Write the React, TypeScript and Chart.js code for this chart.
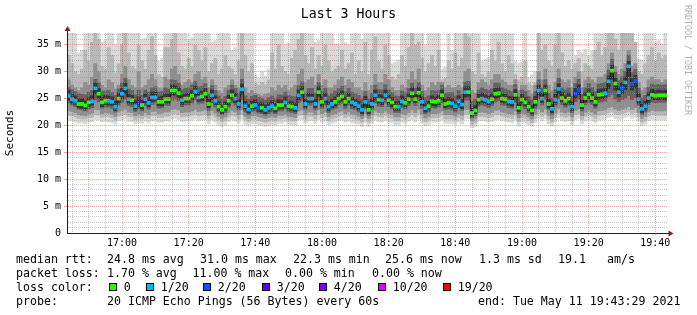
import React, { useEffect, useRef } from 'react';
import { Chart, registerables } from 'chart.js';

Chart.register(...registerables);

const MONO = "'DejaVu Sans Mono', monospace";

// time axis: minutes after 16:00 (16:43:30 .. 19:43:30), one sample per minute
const X_MIN = 43.5;
const X_MAX = 223.5;
const FIRST_SAMPLE = 44;
const Y_MIN = 0;
const Y_MAX = 37.2;

const xMinorTicks = [45, 50, 55, 60, 65, 70, 75, 80, 85, 90, 95, 100, 105, 110, 115, 120, 125, 130, 135, 140, 145, 150, 155, 160, 165, 170, 175, 180, 185, 190, 195, 200, 205, 210, 215, 220];
const xMajorTicks = [60, 80, 100, 120, 140, 160, 180, 200, 220];
const xMajorLabels = ['17:00', '17:20', '17:40', '18:00', '18:20', '18:40', '19:00', '19:20', '19:40'];

const yTicks = [0, 1, 2, 3, 4, 5, 6, 7, 8, 9, 10, 11, 12, 13, 14, 15, 16, 17, 18, 19, 20, 21, 22, 23, 24, 25, 26, 27, 28, 29, 30, 31, 32, 33, 34, 35, 36, 37];
const yMajorTicks = [0, 5, 10, 15, 20, 25, 30, 35];
const yMajorLabels = ['0', '5 m', '10 m', '15 m', '20 m', '25 m', '30 m', '35 m'];

// median rtt (ms) per minute
const medianMs = [
  25.5, 24.9, 24.6, 24.0, 24.0, 23.7, 24.3, 24.5, 26.9, 25.9,
  24.3, 24.6, 24.6, 24.4, 23.5, 25.0, 25.9, 26.9, 24.9, 24.7,
  23.6, 24.3, 23.8, 24.9, 24.2, 25.2, 25.2, 24.4, 24.4, 24.9,
  24.9, 26.5, 26.5, 26.0, 24.7, 25.0, 25.0, 25.5, 26.3, 25.2,
  25.4, 25.9, 24.0, 25.6, 24.6, 23.5, 22.9, 23.5, 24.6, 25.6,
  25.0, 24.0, 26.7, 23.6, 23.0, 23.6, 23.8, 23.3, 23.3, 22.9,
  23.3, 23.6, 23.2, 23.8, 23.8, 24.3, 23.6, 23.5, 23.3, 25.6,
  26.2, 24.0, 25.0, 25.0, 24.0, 26.2, 24.4, 25.0, 23.5, 24.0,
  24.4, 25.0, 25.4, 24.4, 25.0, 24.3, 24.0, 23.6, 22.9, 24.4,
  22.9, 24.0, 25.6, 24.8, 24.7, 25.6, 24.7, 24.3, 23.5, 23.5,
  24.5, 24.2, 24.9, 26.0, 24.9, 26.1, 24.4, 23.2, 23.6, 24.5,
  24.4, 24.6, 25.6, 24.0, 24.2, 24.1, 23.6, 24.5, 23.9, 26.2,
  26.2, 22.3, 22.8, 24.8, 25.0, 24.8, 24.5, 24.9, 25.9, 26.0,
  25.0, 24.9, 24.5, 24.4, 25.7, 23.3, 24.8, 24.3, 23.5, 22.8,
  24.4, 26.5, 25.0, 26.5, 24.0, 23.1, 24.8, 26.8, 25.1, 24.6,
  25.0, 23.5, 25.9, 26.6, 23.8, 25.1, 25.8, 25.1, 24.4, 25.7,
  25.8, 26.0, 28.2, 30.2, 27.8, 26.2, 27.0, 28.0, 31.0, 27.7,
  28.3, 24.9, 23.1, 23.6, 25.1, 25.7, 25.5, 25.6, 25.6, 25.6,
];

// lost pings (of 20) per minute
const lossCount = [
  1, 1, 1, 0, 0, 0, 0, 1, 1, 0,
  0, 0, 1, 1, 1, 0, 1, 1, 1, 0,
  1, 3, 0, 1, 1, 1, 1, 0, 0, 0,
  0, 0, 0, 0, 1, 0, 0, 0, 1, 1,
  0, 0, 0, 1, 1, 0, 0, 0, 0, 0,
  1, 1, 1, 1, 1, 0, 1, 2, 0, 1,
  1, 1, 0, 0, 0, 1, 0, 0, 1, 1,
  0, 1, 1, 1, 1, 0, 0, 1, 1, 1,
  0, 0, 0, 0, 0, 1, 1, 1, 1, 1,
  0, 1, 1, 0, 1, 1, 0, 0, 0, 1,
  1, 0, 0, 0, 0, 0, 1, 1, 0, 0,
  0, 0, 0, 0, 0, 1, 1, 1, 1, 1,
  0, 0, 0, 0, 1, 1, 1, 0, 0, 0,
  0, 0, 1, 1, 0, 0, 0, 0, 0, 0,
  0, 1, 1, 0, 0, 1, 1, 1, 0, 0,
  0, 1, 2, 2, 0, 0, 0, 0, 0, 0,
  0, 1, 1, 0, 0, 1, 2, 1, 1, 2,
  2, 1, 1, 1, 1, 0, 0, 0, 0, 0,
];

// smoke: highest ping (clipped at graph top)
const smokeMax = [
  37.2, 37.2, 37.2, 33.5, 34.0, 37.2, 37.2, 37.2, 37.2, 37.2,
  35.5, 35.8, 37.2, 37.2, 35.0, 37.2, 37.2, 37.2, 37.2, 37.2,
  37.2, 37.2, 36.0, 36.2, 37.2, 37.2, 37.2, 32.0, 32.5, 37.2,
  37.2, 37.2, 37.2, 37.2, 37.2, 37.2, 36.0, 36.3, 37.2, 37.2,
  37.2, 37.2, 37.2, 35.5, 35.8, 37.2, 37.2, 37.2, 37.2, 34.0,
  34.5, 37.2, 37.2, 37.2, 37.2, 37.2, 29.5, 28.8, 30.0, 29.2,
  30.5, 37.2, 37.2, 37.2, 37.2, 35.0, 35.3, 37.2, 37.2, 37.2,
  37.2, 37.2, 37.2, 37.2, 35.5, 35.8, 37.2, 37.2, 37.2, 37.2,
  35.2, 35.0, 37.2, 35.4, 35.0, 37.2, 37.2, 37.2, 36.0, 37.2,
  37.2, 37.2, 37.2, 37.2, 37.2, 37.2, 37.2, 31.5, 31.8, 32.2,
  37.2, 37.2, 37.2, 37.2, 37.2, 37.2, 37.2, 35.0, 37.2, 37.2,
  37.2, 37.2, 30.5, 30.8, 37.2, 34.0, 37.2, 37.2, 37.2, 37.2,
  37.2, 37.2, 37.2, 37.2, 32.0, 32.3, 32.6, 37.2, 37.2, 37.2,
  37.2, 37.2, 37.2, 37.2, 32.0, 31.6, 31.8, 37.2, 29.0, 29.5,
  30.0, 37.2, 37.2, 37.2, 37.2, 37.2, 37.2, 37.2, 37.2, 37.2,
  37.2, 37.2, 33.0, 34.0, 33.5, 34.2, 33.0, 33.8, 37.2, 37.2,
  37.2, 37.2, 37.2, 37.2, 37.2, 37.2, 37.2, 37.2, 37.2, 37.2,
  32.0, 32.4, 32.2, 37.2, 37.2, 37.2, 35.5, 35.8, 35.2, 37.2,
];

const smokeHi2 = [
  33.0, 31.5, 30.0, 29.5, 30.5, 34.0, 32.0, 35.5, 37.2, 36.0,
  31.0, 30.5, 34.5, 33.0, 29.8, 31.5, 35.0, 37.2, 33.5, 31.0,
  30.5, 35.0, 32.0, 30.5, 34.0, 36.5, 33.0, 29.5, 29.0, 34.5,
  34.5, 36.0, 37.2, 33.5, 31.0, 30.5, 32.5, 31.0, 35.0, 34.0,
  32.0, 34.5, 30.0, 31.5, 32.5, 29.5, 30.5, 33.0, 31.0, 30.5,
  29.5, 32.0, 37.2, 33.0, 30.0, 31.5, 27.8, 27.5, 28.0, 27.6,
  28.5, 33.5, 30.5, 35.0, 31.0, 30.0, 29.5, 32.5, 34.0, 36.0,
  37.2, 33.0, 31.5, 34.5, 30.5, 33.0, 31.0, 35.0, 32.0, 30.0,
  30.5, 31.0, 34.0, 30.5, 31.5, 33.5, 29.5, 32.0, 30.0, 35.5,
  29.5, 34.0, 36.5, 32.0, 30.5, 35.0, 33.0, 29.0, 28.5, 29.5,
  33.0, 31.0, 34.5, 37.2, 35.0, 35.5, 32.5, 30.0, 31.5, 33.0,
  31.0, 34.0, 28.5, 28.8, 32.0, 30.5, 33.5, 31.0, 32.5, 37.2,
  36.5, 30.0, 29.5, 33.5, 29.5, 29.0, 30.0, 34.0, 32.0, 35.5,
  31.5, 30.0, 33.0, 31.5, 29.5, 28.5, 29.0, 32.0, 27.8, 27.5,
  28.0, 37.2, 34.0, 35.0, 32.0, 31.0, 35.0, 37.2, 33.5, 31.0,
  32.0, 30.5, 31.5, 32.5, 30.0, 31.5, 31.0, 30.5, 34.0, 35.5,
  33.0, 34.5, 37.2, 37.2, 36.0, 34.0, 37.2, 37.2, 37.2, 37.2,
  35.5, 30.0, 29.5, 31.5, 33.0, 34.5, 32.0, 33.5, 32.5, 33.0,
];

const smokeHi3 = [
  28.5, 27.5, 27.0, 26.5, 27.0, 28.0, 27.5, 29.0, 31.5, 30.0,
  27.5, 27.0, 28.5, 28.0, 26.8, 27.5, 29.5, 31.0, 28.5, 27.5,
  27.0, 30.0, 27.0, 27.5, 28.5, 29.5, 28.5, 27.0, 26.8, 29.0,
  28.5, 30.5, 31.0, 29.5, 27.5, 28.0, 28.5, 28.0, 29.5, 30.0,
  28.5, 29.0, 27.0, 28.5, 27.5, 26.5, 26.0, 27.0, 27.5, 28.5,
  27.5, 27.0, 30.5, 27.0, 26.0, 26.5, 26.0, 25.8, 25.5, 25.8,
  26.0, 27.0, 26.5, 27.5, 27.0, 27.5, 26.5, 27.0, 27.5, 29.5,
  30.5, 28.0, 28.5, 29.0, 27.5, 29.5, 27.5, 28.5, 27.0, 27.0,
  27.5, 28.5, 29.0, 27.5, 28.5, 28.0, 27.0, 27.0, 26.5, 28.0,
  26.5, 27.5, 29.5, 28.0, 28.0, 29.5, 28.5, 27.0, 26.5, 26.5,
  27.5, 27.0, 28.5, 30.0, 28.5, 30.5, 27.5, 26.5, 27.0, 28.0,
  27.5, 28.0, 28.0, 27.0, 27.5, 27.0, 27.0, 27.5, 27.0, 30.0,
  30.5, 26.5, 26.0, 28.0, 28.5, 28.0, 27.5, 28.5, 29.5, 29.5,
  28.5, 28.0, 27.5, 27.5, 28.5, 26.5, 27.5, 27.5, 26.5, 25.8,
  27.5, 30.0, 28.5, 30.5, 27.5, 26.5, 28.0, 30.5, 28.5, 28.0,
  28.5, 27.0, 29.0, 30.0, 27.0, 28.5, 29.0, 28.5, 28.0, 29.0,
  29.0, 29.5, 31.5, 33.5, 31.0, 29.5, 30.5, 31.5, 34.0, 31.0,
  31.5, 28.0, 26.5, 27.0, 28.5, 29.0, 28.5, 28.5, 28.0, 28.5,
];

const smokeHi4 = [
  27.1, 26.7, 26.3, 25.9, 25.8, 25.7, 26.2, 26.5, 28.6, 27.9,
  26.3, 26.4, 26.5, 26.1, 25.6, 26.8, 27.9, 28.8, 26.8, 26.5,
  25.7, 26.6, 25.6, 26.6, 26.2, 27.0, 27.2, 26.2, 26.3, 27.0,
  26.8, 28.5, 28.4, 27.9, 26.6, 26.9, 27.0, 27.5, 28.2, 27.2,
  27.3, 27.8, 25.9, 27.4, 26.5, 25.5, 24.9, 25.4, 26.6, 27.5,
  26.9, 26.0, 28.6, 25.5, 24.9, 25.4, 25.6, 25.2, 25.0, 24.7,
  25.2, 25.5, 25.0, 25.7, 25.6, 26.2, 25.6, 25.4, 25.3, 27.4,
  28.1, 26.0, 26.9, 26.9, 26.0, 28.0, 26.4, 26.9, 25.5, 26.0,
  26.4, 26.9, 27.3, 26.3, 26.9, 26.2, 26.0, 25.6, 24.9, 26.3,
  24.9, 26.0, 27.5, 26.7, 26.6, 27.6, 26.6, 26.1, 25.5, 25.4,
  26.4, 26.1, 26.9, 27.9, 26.9, 28.0, 26.3, 25.2, 25.5, 26.5,
  26.4, 26.5, 27.5, 26.0, 26.1, 26.1, 25.5, 26.5, 25.8, 28.1,
  28.2, 24.5, 24.9, 26.6, 27.0, 26.7, 26.5, 26.8, 27.9, 27.9,
  27.0, 26.8, 26.5, 26.3, 27.6, 25.3, 26.6, 26.3, 25.4, 24.8,
  26.3, 28.5, 26.9, 28.5, 26.0, 25.1, 26.7, 28.8, 27.0, 26.6,
  27.0, 25.5, 27.8, 28.6, 25.8, 27.0, 27.8, 27.1, 26.3, 27.7,
  27.8, 28.0, 30.3, 32.3, 29.9, 28.3, 29.1, 30.1, 33.1, 29.8,
  30.4, 26.9, 25.1, 25.6, 27.1, 27.7, 27.5, 27.6, 27.5, 27.6,
];

// dark core right around the median
const smokeHi5 = [
  26.5, 25.9, 25.5, 24.9, 25.0, 24.6, 25.2, 25.5, 27.9, 26.9,
  25.2, 25.6, 25.5, 25.3, 24.5, 26.0, 26.9, 27.9, 25.9, 25.6,
  24.6, 25.3, 24.7, 25.9, 25.2, 26.2, 26.2, 25.3, 25.4, 25.9,
  25.9, 27.5, 27.4, 27.0, 25.6, 25.9, 26.0, 26.5, 27.3, 26.1,
  26.4, 26.9, 24.9, 26.6, 25.5, 24.4, 23.8, 24.4, 25.6, 26.6,
  26.0, 24.9, 27.7, 24.5, 23.9, 24.5, 24.8, 24.2, 24.2, 23.8,
  24.2, 24.6, 24.1, 24.8, 24.7, 25.3, 24.5, 24.4, 24.2, 26.6,
  27.2, 24.9, 26.0, 25.9, 24.9, 27.2, 25.3, 26.0, 24.4, 24.9,
  25.3, 26.0, 26.4, 25.3, 26.0, 25.2, 24.9, 24.5, 23.8, 25.4,
  23.8, 24.9, 26.6, 25.7, 25.7, 26.6, 25.6, 25.2, 24.4, 24.5,
  25.5, 25.1, 25.9, 27.0, 25.8, 27.1, 25.3, 24.1, 24.5, 25.5,
  25.3, 25.6, 26.6, 24.9, 25.2, 25.0, 24.5, 25.5, 24.8, 27.2,
  27.2, 23.2, 23.7, 25.8, 26.0, 25.7, 25.5, 25.9, 26.9, 27.0,
  25.9, 25.9, 25.4, 25.3, 26.7, 24.2, 25.8, 25.2, 24.4, 23.7,
  25.4, 27.5, 26.0, 27.5, 24.9, 24.0, 25.8, 27.8, 26.1, 25.5,
  26.0, 24.4, 26.9, 27.6, 24.7, 26.1, 26.8, 26.1, 25.3, 26.7,
  26.8, 27.0, 29.2, 31.2, 28.8, 27.2, 28.0, 29.0, 32.0, 28.7,
  29.3, 25.9, 24.0, 24.5, 26.1, 26.7, 26.5, 26.6, 26.5, 26.6,
];

const smokeLo5 = [
  24.7, 24.1, 23.9, 23.3, 23.2, 23.0, 23.5, 23.8, 25.9, 25.1,
  23.5, 23.9, 23.8, 23.7, 22.8, 24.2, 25.0, 25.9, 24.1, 24.0,
  22.9, 23.5, 23.0, 24.1, 23.5, 24.4, 24.5, 23.7, 23.6, 24.2,
  24.1, 25.6, 25.7, 25.2, 23.9, 24.3, 24.2, 24.8, 25.4, 24.5,
  24.6, 25.1, 23.3, 24.8, 23.9, 22.8, 22.2, 22.8, 23.8, 24.8,
  24.2, 23.3, 25.8, 22.9, 22.3, 22.9, 23.0, 22.6, 22.5, 22.2,
  22.6, 22.9, 22.5, 23.0, 23.1, 23.5, 22.9, 22.8, 22.6, 24.8,
  25.3, 23.3, 24.2, 24.3, 23.3, 25.4, 23.6, 24.2, 22.8, 23.3,
  23.6, 24.3, 24.6, 23.7, 24.2, 23.6, 23.3, 22.9, 22.2, 23.6,
  22.2, 23.3, 24.8, 24.1, 23.9, 24.8, 24.0, 23.5, 22.8, 22.8,
  23.8, 23.5, 24.1, 25.2, 24.2, 25.3, 23.7, 22.5, 22.9, 23.7,
  23.6, 23.9, 24.8, 23.3, 23.5, 23.4, 22.9, 23.8, 23.1, 25.3,
  25.4, 21.7, 22.1, 24.0, 24.3, 24.1, 23.8, 24.1, 25.0, 25.2,
  24.3, 24.1, 23.8, 23.6, 24.9, 22.6, 24.0, 23.6, 22.8, 22.1,
  23.7, 25.6, 24.3, 25.7, 23.3, 22.4, 24.0, 25.9, 24.4, 23.8,
  24.2, 22.8, 25.0, 25.7, 23.1, 24.3, 25.0, 24.4, 23.6, 24.9,
  25.0, 25.2, 26.9, 28.6, 26.6, 25.3, 25.9, 26.7, 29.2, 26.6,
  27.0, 24.1, 22.4, 22.9, 24.3, 24.9, 24.8, 24.8, 24.9, 24.8,
];

const smokeLo4 = [
  24.2, 23.8, 23.5, 23.0, 22.9, 22.7, 23.1, 23.3, 24.8, 24.4,
  23.2, 23.4, 23.4, 23.2, 22.5, 23.8, 24.3, 24.9, 23.7, 23.5,
  22.6, 23.1, 22.7, 23.7, 23.0, 23.9, 24.0, 23.2, 23.3, 23.8,
  23.7, 24.7, 24.9, 24.6, 23.5, 23.8, 23.8, 24.2, 24.8, 24.0,
  24.1, 24.5, 22.8, 24.2, 23.4, 22.5, 22.0, 22.4, 23.4, 24.3,
  23.8, 22.9, 24.8, 22.5, 22.0, 22.6, 22.7, 22.3, 22.2, 21.9,
  22.2, 22.5, 22.2, 22.7, 22.7, 23.1, 22.5, 22.4, 22.2, 24.2,
  24.6, 22.9, 23.8, 23.8, 22.9, 24.6, 23.2, 23.8, 22.4, 22.9,
  23.2, 23.8, 24.1, 23.2, 23.8, 23.1, 22.9, 22.5, 21.9, 23.2,
  21.9, 22.9, 24.2, 23.6, 23.5, 24.2, 23.5, 23.1, 22.4, 22.4,
  23.3, 23.0, 23.7, 24.5, 23.7, 24.6, 23.2, 22.2, 22.5, 23.3,
  23.2, 23.4, 24.2, 22.9, 23.0, 22.9, 22.5, 23.3, 22.8, 24.7,
  24.7, 21.4, 21.8, 23.6, 23.8, 23.6, 23.3, 23.7, 24.4, 24.6,
  23.8, 23.7, 23.3, 23.2, 24.3, 22.2, 23.6, 23.1, 22.4, 21.8,
  23.2, 24.9, 23.8, 24.9, 22.9, 22.0, 23.6, 25.0, 23.9, 23.4,
  23.8, 22.4, 24.4, 24.9, 22.7, 23.9, 24.3, 23.9, 23.2, 24.3,
  24.4, 24.5, 25.4, 25.8, 24.9, 24.4, 24.8, 25.1, 25.6, 24.8,
  25.2, 23.7, 22.0, 22.5, 23.9, 24.4, 24.2, 24.3, 24.3, 24.3,
];

const smokeLo3 = [
  22.8, 22.6, 22.4, 22.0, 21.9, 21.8, 22.1, 22.3, 23.0, 22.9,
  22.2, 22.4, 22.3, 22.1, 21.7, 22.5, 22.8, 23.0, 22.5, 22.4,
  21.8, 22.1, 21.9, 22.4, 22.0, 22.6, 22.6, 22.2, 22.3, 22.5,
  22.5, 23.0, 23.1, 22.9, 22.4, 22.5, 22.5, 22.7, 23.0, 22.6,
  22.7, 22.9, 21.9, 22.8, 22.3, 21.7, 21.3, 21.6, 22.3, 22.8,
  22.5, 22.0, 22.9, 21.7, 21.3, 21.8, 21.9, 21.6, 21.5, 21.3,
  21.5, 21.7, 21.5, 21.9, 21.9, 22.1, 21.7, 21.6, 21.5, 22.7,
  22.9, 22.0, 22.5, 22.5, 22.0, 22.9, 22.2, 22.5, 21.6, 22.0,
  22.2, 22.5, 22.7, 22.2, 22.5, 22.1, 22.0, 21.7, 21.3, 22.2,
  21.3, 22.0, 22.7, 22.4, 22.3, 22.7, 22.3, 22.1, 21.6, 21.6,
  22.2, 22.0, 22.4, 22.9, 22.4, 23.0, 22.1, 21.4, 21.7, 22.2,
  22.2, 22.3, 22.7, 22.0, 22.0, 22.0, 21.7, 22.2, 21.9, 23.0,
  23.0, 20.9, 21.2, 22.4, 22.5, 22.4, 22.2, 22.4, 22.8, 22.9,
  22.5, 22.4, 22.2, 22.1, 22.7, 21.4, 22.3, 22.1, 21.6, 21.2,
  22.1, 23.1, 22.5, 23.1, 21.9, 21.3, 22.3, 23.2, 22.5, 22.3,
  22.5, 21.6, 22.8, 23.1, 21.8, 22.5, 22.8, 22.5, 22.1, 22.7,
  22.8, 22.9, 23.3, 23.5, 23.1, 22.8, 23.0, 23.2, 23.5, 23.0,
  23.3, 22.4, 21.3, 21.7, 22.5, 22.8, 22.7, 22.7, 22.7, 22.7,
];

const smokeLo2 = [
  21.9, 21.8, 21.6, 21.3, 21.2, 21.2, 21.4, 21.5, 22.0, 21.9,
  21.5, 21.6, 21.6, 21.4, 21.0, 21.7, 21.9, 22.1, 21.7, 21.6,
  21.1, 21.4, 21.2, 21.6, 21.3, 21.8, 21.8, 21.5, 21.5, 21.7,
  21.7, 22.1, 22.2, 22.0, 21.6, 21.7, 21.7, 21.9, 22.1, 21.8,
  21.9, 22.0, 21.2, 21.9, 21.5, 21.0, 20.7, 20.9, 21.5, 21.9,
  21.7, 21.2, 22.0, 21.0, 20.7, 21.1, 21.2, 20.9, 20.8, 20.6,
  20.8, 21.0, 20.8, 21.2, 21.2, 21.4, 21.0, 20.9, 20.8, 21.9,
  22.0, 21.2, 21.7, 21.7, 21.2, 22.0, 21.4, 21.7, 20.9, 21.2,
  21.4, 21.7, 21.9, 21.4, 21.7, 21.3, 21.2, 21.0, 20.6, 21.4,
  20.6, 21.2, 21.9, 21.6, 21.5, 21.9, 21.5, 21.3, 20.9, 20.9,
  21.4, 21.2, 21.6, 22.0, 21.6, 22.1, 21.3, 20.7, 21.0, 21.4,
  21.4, 21.5, 21.9, 21.2, 21.2, 21.2, 21.0, 21.4, 21.1, 22.1,
  22.1, 20.2, 20.5, 21.6, 21.7, 21.6, 21.4, 21.6, 22.0, 22.0,
  21.7, 21.6, 21.4, 21.3, 21.9, 20.7, 21.5, 21.3, 20.9, 20.5,
  21.3, 22.2, 21.7, 22.2, 21.1, 20.6, 21.5, 22.3, 21.7, 21.5,
  21.7, 20.9, 22.0, 22.2, 21.1, 21.7, 22.0, 21.7, 21.3, 21.9,
  22.0, 22.1, 22.4, 22.6, 22.2, 22.0, 22.2, 22.4, 22.6, 22.2,
  22.4, 21.6, 20.6, 20.9, 21.7, 22.0, 21.9, 21.9, 21.9, 21.9,
];

const smokeMin = [
  21.0, 20.9, 20.6, 20.4, 20.5, 20.3, 20.6, 20.7, 21.1, 21.0,
  20.7, 20.8, 20.6, 20.5, 20.2, 20.9, 21.0, 21.2, 20.8, 20.7,
  20.3, 20.5, 20.4, 20.8, 20.5, 20.9, 21.0, 20.6, 20.6, 20.9,
  20.8, 21.2, 21.3, 21.1, 20.7, 20.8, 20.9, 21.0, 21.2, 20.9,
  21.0, 21.1, 20.3, 21.0, 20.6, 20.1, 19.8, 20.1, 20.7, 21.0,
  20.8, 20.4, 21.1, 20.2, 19.9, 20.3, 20.4, 20.1, 20.0, 19.8,
  20.0, 20.2, 20.0, 20.4, 20.4, 20.6, 20.2, 20.1, 20.0, 21.0,
  21.1, 20.4, 20.8, 20.9, 20.4, 21.1, 20.6, 20.8, 20.1, 20.4,
  20.6, 20.9, 21.0, 20.6, 20.8, 20.5, 20.4, 20.2, 19.8, 20.6,
  19.8, 20.4, 21.0, 20.7, 20.6, 21.0, 20.6, 20.5, 20.1, 20.1,
  20.6, 20.4, 20.8, 21.1, 20.7, 21.2, 20.5, 19.9, 20.2, 20.6,
  20.6, 20.7, 21.0, 20.4, 20.4, 20.4, 20.2, 20.6, 20.3, 21.2,
  21.2, 19.6, 19.8, 20.8, 20.9, 20.8, 20.6, 20.8, 21.1, 21.1,
  20.9, 20.8, 20.6, 20.5, 21.0, 19.9, 20.7, 20.5, 20.1, 19.8,
  20.5, 21.3, 20.9, 21.3, 20.3, 19.9, 20.7, 21.4, 20.9, 20.7,
  20.9, 20.1, 21.1, 21.3, 20.3, 20.9, 21.1, 20.9, 20.5, 21.0,
  21.1, 21.2, 21.5, 21.7, 21.3, 21.1, 21.3, 21.5, 21.7, 21.3,
  21.5, 20.8, 19.9, 20.2, 20.9, 21.1, 21.0, 21.0, 21.0, 21.0,
];

const lossLevels = [0, 1, 2, 3, 4, 10, 19];
const lossLabels = ['0', '1/20', '2/20', '3/20', '4/20', '10/20', '19/20'];
const lossColors = ['#26ff00', '#00b8ff', '#0059ff', '#5e00ff', '#7e00ff', '#dd00ff', '#ff0000'];

const GRID = 'rgba(143,143,143,0.5)';
const MGRID = 'rgba(222,79,79,0.5)';
const AXIS = '#1f1f1f';
const ARROW = '#801f1f';

function lossColor(c: number): string {
  let idx = 0;
  for (let i = 0; i < lossLevels.length; i++) if (c >= lossLevels[i]) idx = i;
  return lossColors[idx];
}

const sampleX = medianMs.map((_, i) => FIRST_SAMPLE + i);

function band(lo: number[], hi: number[], color: string, order: number) {
  return {
    type: 'bar' as const,
    data: sampleX.map((x, i) => ({ x, y: [lo[i], hi[i]] })),
    backgroundColor: color,
    borderWidth: 0,
    grouped: false,
    barPercentage: 1,
    categoryPercentage: 1,
    order,
  };
}

const legendLine1: [number, string][] = [
  [16, 'median rtt:'], [107, '24.8 ms avg'], [200, '31.0 ms max'], [293, '22.3 ms min'],
  [385, '25.6 ms now'], [479, '1.3 ms sd'], [558, '19.1'], [607, 'am/s'],
];
const legendLine2: [number, string][] = [
  [16, 'packet loss:'], [107, '1.70 % avg'], [192.5, '11.00 % max'], [285, '0.00 % min'], [372, '0.00 % now'],
];
const lossBoxX = [109, 146, 203, 262, 319, 378, 443];
const legendLine4: [number, string][] = [
  [16, 'probe:'], [107, '20 ICMP Echo Pings (56 Bytes) every 60s'], [478, 'end: Tue May 11 19:43:29 2021'],
];

const LEGEND_FONT = 11.6;
const lineTops = [252, 266, 280, 294];

export default function App() {
  const ref = useRef<HTMLCanvasElement>(null);

  useEffect(() => {
    const canvas = ref.current;
    if (!canvas) return;
    const chart = new Chart(canvas, {
      type: 'bar',
      data: {
        datasets: [
          band(smokeMin, smokeMax, '#d9d9d9', 10),
          band(smokeLo2, smokeHi2, '#b8b8b8', 9),
          band(smokeLo3, smokeHi3, '#8f8f8f', 8),
          band(smokeLo4, smokeHi4, '#636363', 7),
          band(smokeLo5, smokeHi5, '#363636', 6),
          {
            type: 'line' as const,
            data: sampleX.map((x, i) => ({ x, y: medianMs[i] })),
            stepped: 'middle',
            borderColor: '#1a1a1a',
            borderWidth: 1,
            pointRadius: 0,
            fill: false,
            order: 2,
          } as any,
          {
            type: 'bar' as const,
            data: sampleX.map((x, i) => ({ x, y: [medianMs[i] - 0.28, medianMs[i] + 0.28] })),
            backgroundColor: lossCount.map(lossColor),
            borderWidth: 0,
            grouped: false,
            barPercentage: 1,
            categoryPercentage: 1,
            order: 1,
          },
        ] as any,
      },
      options: {
        animation: false,
        responsive: false,
        maintainAspectRatio: false,
        events: [],
        layout: { padding: { top: 33, left: 0, right: 30, bottom: 62 } },
        plugins: {
          legend: { display: false },
          tooltip: { enabled: false },
          title: { display: false },
        },
        scales: {
          x: {
            type: 'linear',
            min: X_MIN,
            max: X_MAX,
            offset: false,
            afterBuildTicks: (axis: any) => {
              axis.ticks = xMinorTicks.map((v) => ({ value: v }));
            },
            afterFit: (axis: any) => {
              axis.height = 20;
            },
            ticks: {
              autoSkip: false,
              maxRotation: 0,
              minRotation: 0,
              padding: 2,
              color: '#000',
              font: { family: MONO, size: 10 },
              callback: (v: any) => {
                const i = xMajorTicks.indexOf(Number(v));
                return i >= 0 ? xMajorLabels[i] : '';
              },
            },
            grid: {
              offset: false,
              z: 1,
              lineWidth: 1,
              color: (ctx: any) => (xMajorTicks.includes(ctx.tick?.value) ? MGRID : GRID),
              drawTicks: true,
              tickLength: 2,
              tickColor: (ctx: any) => (xMajorTicks.includes(ctx.tick?.value) ? MGRID : 'rgba(0,0,0,0)'),
            },
            border: { display: true, color: AXIS, width: 1, dash: [1, 1], z: 2 },
          },
          y: {
            type: 'linear',
            min: Y_MIN,
            max: Y_MAX,
            afterBuildTicks: (axis: any) => {
              axis.ticks = yTicks.map((v) => ({ value: v }));
            },
            afterFit: (axis: any) => {
              axis.width = 67;
            },
            ticks: {
              autoSkip: false,
              padding: 3,
              color: '#000',
              font: { family: MONO, size: 10 },
              callback: (v: any) => {
                const i = yMajorTicks.indexOf(Number(v));
                return i >= 0 ? yMajorLabels[i] : '';
              },
            },
            grid: {
              z: 1,
              lineWidth: 1,
              color: (ctx: any) => {
                const v = ctx.tick?.value;
                if (v === 0) return 'rgba(0,0,0,0)';
                return yMajorTicks.includes(v) ? MGRID : GRID;
              },
              drawTicks: true,
              tickLength: 3,
              tickColor: (ctx: any) => (yMajorTicks.includes(ctx.tick?.value) && ctx.tick?.value !== 0 ? MGRID : 'rgba(0,0,0,0)'),
            },
            border: { display: true, color: AXIS, width: 1, dash: [1, 1], z: 2 },
            title: {
              display: true,
              text: 'Seconds',
              color: '#000',
              font: { family: MONO, size: 11 },
              padding: { top: 4, bottom: 0 },
            },
          },
        },
      } as any,
    });
    return () => chart.destroy();
  }, []);

  const textStyle = (left: number, top: number): React.CSSProperties => ({
    position: 'absolute',
    left,
    top,
    fontFamily: MONO,
    fontSize: LEGEND_FONT,
    lineHeight: '14px',
    whiteSpace: 'pre',
    color: '#000',
  });

  return (
    <div
      style={{
        position: 'absolute',
        left: 0,
        top: 0,
        width: 697,
        height: 315,
        background: '#fff',
        overflow: 'hidden',
      }}
    >
      <canvas ref={ref} width={697} height={315} style={{ position: 'absolute', left: 0, top: 0, width: 697, height: 315 }} />
      <div
        style={{
          position: 'absolute',
          left: 0,
          top: 6,
          width: 697,
          textAlign: 'center',
          fontFamily: MONO,
          fontSize: 13.2,
          lineHeight: '16px',
          color: '#000',
          whiteSpace: 'pre',
        }}
      >
        Last 3 Hours
      </div>
      <div
        style={{
          position: 'absolute',
          left: 683,
          top: 5,
          writingMode: 'vertical-rl',
          fontFamily: MONO,
          fontSize: 8.3,
          lineHeight: '9px',
          color: '#b0b0b0',
          whiteSpace: 'pre',
        }}
      >
        RRDTOOL / TOBI OETIKER
      </div>
      <svg width={697} height={315} style={{ position: 'absolute', left: 0, top: 0, pointerEvents: 'none' }}>
        <line x1={67.5} y1={30} x2={67.5} y2={33} stroke={AXIS} strokeWidth={1} />
        <line x1={667} y1={233.5} x2={669} y2={233.5} stroke={AXIS} strokeWidth={1} />
        <polygon points="64.5,31 70.5,31 67.5,26" fill={ARROW} />
        <polygon points="668.5,230.5 668.5,236.5 673.5,233.5" fill={ARROW} />
      </svg>
      {legendLine1.map(([x, t], i) => (
        <div key={'a' + i} style={textStyle(x, lineTops[0])}>{t}</div>
      ))}
      {legendLine2.map(([x, t], i) => (
        <div key={'b' + i} style={textStyle(x, lineTops[1])}>{t}</div>
      ))}
      <div style={textStyle(16, lineTops[2])}>loss color:</div>
      {lossLabels.map((lab, i) => (
        <React.Fragment key={'c' + i}>
          <div
            style={{
              position: 'absolute',
              left: lossBoxX[i],
              top: lineTops[2] + 3,
              width: 8,
              height: 8,
              boxSizing: 'border-box',
              border: '1px solid #000',
              background: lossColors[i],
            }}
          />
          <div style={textStyle(lossBoxX[i] + 14.7, lineTops[2])}>{lab}</div>
        </React.Fragment>
      ))}
      {legendLine4.map(([x, t], i) => (
        <div key={'d' + i} style={textStyle(x, lineTops[3])}>{t}</div>
      ))}
    </div>
  );
}
